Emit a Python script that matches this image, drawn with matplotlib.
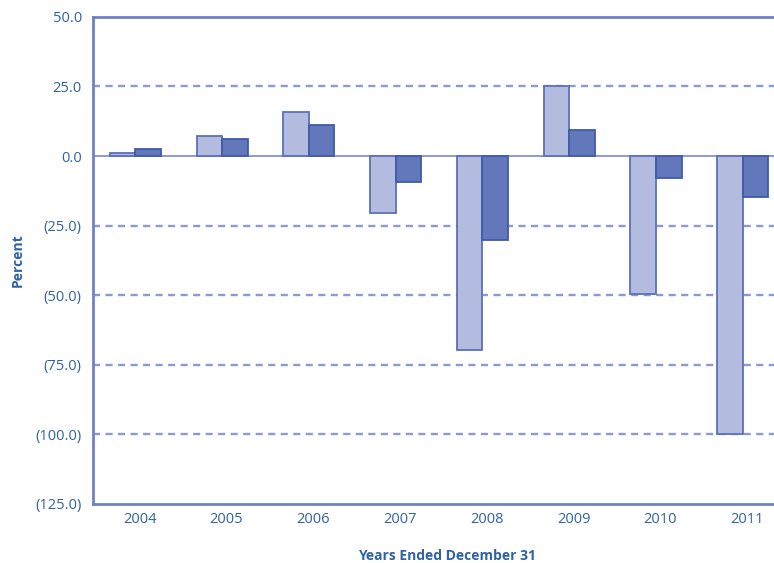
import matplotlib.pyplot as plt
import numpy as np

years = ['2004', '2005', '2006', '2007', '2008', '2009', '2010', '2011']
light_vals = [1.1, 7.2, 15.8, -20.5, -69.7, 25.2, -49.6, -100.0]
dark_vals = [2.5, 6.1, 11.2, -9.3, -30.2, 9.4, -7.9, -14.7]
yticks = [50, 25, 0, -25, -50, -75, -100, -125]

text_col = '#2f62a6'
axis_col = '#6f82c6'

plt.rcParams['font.family'] = ['Open Sans', 'DejaVu Sans']

fig = plt.figure(figsize=(7.74, 5.63), dpi=100)
ax = fig.add_axes([0.120, 0.105, 0.880, 0.865])

x = np.arange(len(years))
w = 0.294
ax.bar(x - w / 2, light_vals, w, color='#b3bbdf', edgecolor='#5b70b9', linewidth=1.3, zorder=3)
ax.bar(x + w / 2, dark_vals, w, color='#6278bb', edgecolor='#3f5ba9', linewidth=1.3, zorder=3)

# dashed gridlines
for v in [25, -25, -50, -75, -100]:
    ax.axhline(v, color='#8b9ad2', linestyle=(0, (3, 2.3)), linewidth=1.7, zorder=1)
ax.axhline(0, color='#8c9bd2', linewidth=1.4, zorder=2)

ax.set_ylim(-125, 50)
ax.set_xlim(-0.49, 7.36)
ax.set_yticks(yticks)
ax.set_yticklabels(['%.1f' % v if v >= 0 else '(%.1f)' % -v for v in yticks])
ax.set_xticks(x + 0.05)
ax.set_xticklabels(years)
ax.tick_params(length=0, colors=text_col, labelsize=10.5)
ax.tick_params(axis='y', pad=8)
ax.tick_params(axis='x', pad=6)

for s in ['top', 'left', 'bottom']:
    ax.spines[s].set_color(axis_col)
    ax.spines[s].set_linewidth(2)
ax.spines['right'].set_visible(False)

ax.set_ylabel('Percent', color=text_col, fontsize=10, fontweight='bold')
ax.yaxis.set_label_coords(-0.1, 0.5)
ax.set_xlabel('Years Ended December 31', color=text_col, fontsize=10, fontweight='bold')
ax.xaxis.set_label_coords(0.52, -0.093)

fig.savefig('out.png', dpi=100)
